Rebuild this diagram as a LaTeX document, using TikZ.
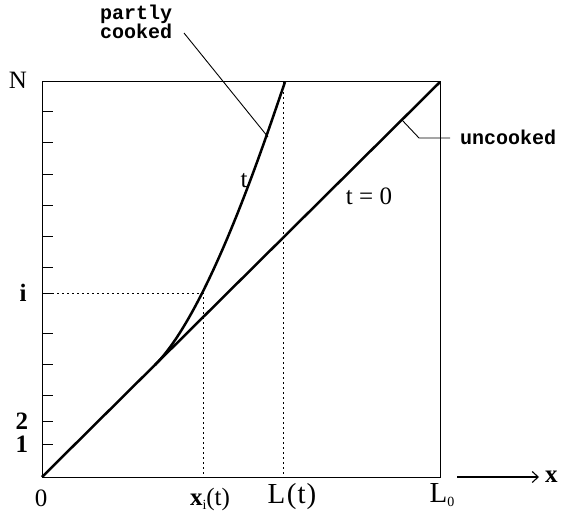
\documentclass[tikz,border=0pt]{standalone}
\usepackage{fontspec}
\setmainfont{Liberation Serif}
\newfontfamily\monof{Liberation Mono}
\usetikzlibrary{arrows.meta}
\begin{document}
\begin{tikzpicture}[x=1pt,y=-1pt,
  frame/.style={line width=1pt},
  heavy/.style={line width=2.5pt},
  dotline/.style={line width=1pt, dash pattern=on 2pt off 3pt},
  ticklin/.style={line width=1pt},
  leader/.style={line width=0.9pt},
  lbl/.style={inner sep=0pt, font=\fontsize{25}{25}\selectfont},
  biglbl/.style={inner sep=0pt, font=\fontsize{29}{29}\selectfont},
  mono/.style={inner sep=0pt, font=\monof\bfseries\fontsize{20}{19}\selectfont},
]
\useasboundingbox (0,0) rectangle (561,513);
% frame corners
\coordinate (O) at (42,477);
\coordinate (TL) at (42,82);
\coordinate (TR) at (440,82);
\coordinate (BR) at (440,477);
\draw[frame] (O) -- (TL) -- (TR) -- (BR) -- cycle;
% ticks
\foreach \y in {112,143,174,205,236,267,293,333,364,395,421,444}
  \draw[ticklin] (42,\y) -- ++(11,0);
% dotted guides
\coordinate (Iy) at (42,293);
\coordinate (Ip) at (203,293);
\coordinate (Ib) at (203,477);
\coordinate (Lt) at (283,82);
\coordinate (Lb) at (283,477);
\draw[dotline] (Iy) -- (Ip) -- (Ib);
\draw[dotline] (Lt) -- (Lb);
% t = 0 line
\draw[heavy] (O) -- (TR);
% cooked curve
\coordinate (Cs) at (155,365);
\coordinate (C1) at (210,310);
\coordinate (C2) at (267,134);
\coordinate (Ce) at (285,82);
\draw[heavy] (Cs) .. controls (C1) and (C2) .. (Ce);
% axis labels
\node[lbl] (N) at (18,80) {N};
\node[lbl] (ilab) at (23,293) {\textbf{i}};
\node[lbl] (two) at (22,421) {\textbf{2}};
\node[lbl] (one) at (22,444) {\textbf{1}};
\node[lbl] (zero) at (41,498) {0};
\node[lbl] (xilab) at (210,499) {\textbf{x}\raisebox{-4pt}{\fontsize{14}{14}\selectfont i}(t)};
\node[biglbl] (Ltlab) at (292,497) {L\kern1.5pt(\kern1pt t\kern1pt)};
\node[biglbl] (L0lab) at (442,495) {L\raisebox{-4pt}{\fontsize{14}{14}\selectfont 0}};
% x axis arrow
\node[lbl, anchor=west] (xlab) at (545,477) {\textbf{x}};
\coordinate (ax) at (457,477);
\draw[line width=1.1pt, -{Straight Barb[length=6pt,width=11pt]}, shorten >=6pt] (ax) -- (xlab.west);
% curve labels
\node[lbl] (tlab) at (244,181) {t};
\node[lbl] (t0lab) at (369,196) {t = 0};
% partly cooked
\node[mono, align=left, anchor=north west] (pc) at (100,5) {partly\\cooked};
\coordinate (pcA) at (184,33);
\coordinate (pcB) at (268,137);
\draw[leader] (pcA) -- (pcB);
% uncooked
\node[mono, anchor=west] (unc) at (460,137) {uncooked};
\coordinate (uA) at (402,120);
\coordinate (uB) at (419,138);
\draw[leader, shorten >=10pt] (uA) -- (uB) -- (unc.west |- uB);
\end{tikzpicture}
\end{document}
